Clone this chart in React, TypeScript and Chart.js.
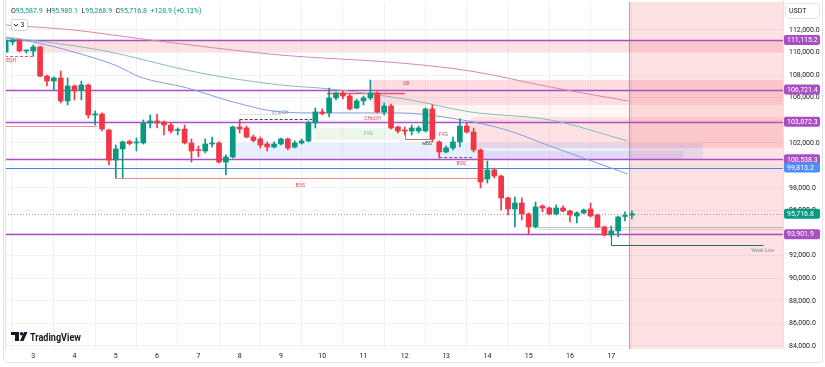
import React, { useEffect, useRef } from 'react';
import { Chart, registerables } from 'chart.js';
Chart.register(...registerables);

const GREEN = '#089981';
const RED = '#f23645';
const PURPLE = '#a94fc4';
const BLUE = '#4f8ff7';

// time axis: 4h candles, day labels every 6 candles, first candle index
const dayLabels = ['3', '4', '5', '6', '7', '8', '9', '10', '11', '12', '13', '14', '15', '16', '17'];
const candlesPerDay = 6;
const firstCandle = -4;
const xMin = -4.1;
const xMax = 108.96;

const priceTicks = [84000, 86000, 88000, 90000, 92000, 94000, 96000, 98000, 100000, 102000, 104000, 106000, 108000, 110000, 112000];
const yMin = 83734;
const yMax = 114481;

// OHLC, from candle index -4 to 87
const opens = [110050, 110940, 111110, 110140, 110140, 110490, 107920, 107480, 107750, 105710, 107040, 106680, 107130, 104470, 104560, 103140, 100480, 101460, 102120, 101990, 101990, 103760, 103940, 103850, 103580, 103100, 103230, 101990, 101410, 101280, 101900, 101990, 100300, 100750, 103410, 103320, 102520, 102340, 101900, 101630, 101900, 102340, 101630, 101990, 102170, 103760, 104740, 104650, 105980, 106420, 106150, 105090, 105710, 105980, 106420, 104740, 105270, 103410, 103140, 103050, 103050, 103050, 105000, 102080, 101190, 101550, 102080, 103490, 102960, 101370, 98800, 99600, 99060, 97120, 96140, 96670, 95700, 94550, 96410, 96230, 95700, 96230, 95960, 95520, 95790, 96140, 95610, 94550, 93840, 94190, 95480, 95587.9];
const highs = [111200, 111200, 111160, 110230, 110670, 110580, 108010, 107840, 108370, 107750, 107130, 107480, 107210, 104820, 104650, 103230, 101810, 102170, 102250, 102430, 104030, 104470, 104560, 103940, 103760, 103320, 103580, 102340, 101720, 102340, 102520, 102080, 100930, 103490, 104030, 103490, 102700, 102520, 102080, 102080, 102430, 102430, 102170, 102340, 103940, 105090, 105000, 106860, 106510, 106600, 106330, 105890, 106150, 107570, 106510, 105530, 105440, 103490, 103410, 103580, 103490, 105090, 105360, 102170, 101720, 102520, 104120, 103760, 103320, 101460, 100390, 99770, 99150, 97200, 97200, 97120, 95790, 96760, 96500, 96320, 96500, 96410, 96050, 95880, 96140, 96670, 95700, 94630, 94630, 95520, 95880, 95980.1];
const lows = [109960, 110670, 110050, 109960, 109700, 107840, 107040, 106680, 105530, 105360, 105800, 105800, 104200, 103580, 103050, 100040, 98890, 98890, 101810, 101280, 101900, 103320, 103320, 102700, 102870, 102700, 101900, 100300, 100750, 101100, 101630, 100220, 99150, 100660, 102870, 102430, 102080, 101550, 101280, 101550, 101810, 101370, 101550, 101900, 102080, 103320, 104470, 104290, 105800, 105890, 104910, 105000, 105360, 105800, 104650, 104470, 103230, 102870, 102700, 102700, 102870, 102960, 102080, 100660, 101100, 101370, 101630, 102870, 101190, 98000, 98440, 98890, 96050, 95610, 94550, 95170, 93930, 94460, 95880, 95610, 95610, 95880, 94990, 94900, 95700, 95430, 94460, 93750, 93660, 93660, 95080, 95268.9];
const closes = [111025, 111115, 110140, 110180, 110490, 107920, 107480, 107750, 105710, 107040, 106600, 107130, 104470, 104560, 103230, 100480, 101460, 102080, 101940, 102080, 103760, 103940, 103760, 103580, 103050, 103180, 101990, 101280, 101320, 101900, 101990, 100300, 100750, 103410, 103230, 102520, 102210, 101810, 101630, 101900, 102340, 101550, 101990, 102170, 103760, 104740, 104600, 105980, 106420, 106150, 105000, 105710, 105980, 106420, 104740, 105270, 103320, 103050, 103050, 103320, 103320, 105000, 102340, 101190, 101550, 102080, 103490, 102960, 101370, 98530, 99600, 99060, 97120, 96140, 96670, 95700, 94550, 96320, 96230, 95700, 96230, 95960, 95610, 95790, 96050, 95520, 94550, 93840, 94190, 95430, 95570, 95716.8];

// moving averages (anchor candle index, value)
const maSlowIdx = [-4, 5.8, 15.9, 35.9, 53.3, 63.5, 75.1, 86.4];
const maSlow = [112440, 112000, 111200, 109780, 109080, 108370, 106950, 105710];
const maMidIdx = [-4, 9.7, 24.3, 35.9, 43.2, 54.8, 63.5, 75.1, 86.4];
const maMid = [111380, 110230, 108190, 107130, 106770, 105800, 104740, 104030, 102170];
const maFastIdx = [-4, 0, 6.4, 12.2, 15.5, 22.4, 29.1, 35.9, 41.7, 53.3, 60.6, 68.3, 75.1, 86.4];
const maFast = [111290, 110940, 109960, 108810, 107840, 106860, 105620, 104740, 104650, 104650, 104200, 103230, 101720, 99240];

// horizontal price levels
const purpleLevels = [111115.2, 106721.4, 103872.3, 100538.3, 93901.9];
const blueLevels = [99813.2];

// zones: [fromIndex, toIndex, upperPrice, lowerPrice]
const zoneTopSupply = [0, 110, 111115.2, 110050];
const zoneOB = [49.2, 110, 107570, 105355];
const zoneOBLower = [49.2, 110, 105355, 104290];
const zoneSupply2 = [63.5, 110, 104290, 101545];
const zoneFVG = [40.7, 53.8, 103320, 102250];
const zoneDemand = [28.9, 97.3, 101990, 100538.3];
const zoneImbalance = [65, 94.4, 101280, 100538.3];
const futureFrom = 86.6;

// segments: [fromIndex, toIndex, price]
const segEqh = [-4.1, 0.3, 109670];
const segSweep = [-4.1, 9.3, 103490];
const segBos = [12, 66, 98890];
const segChoch = [30, 40.5, 104120];
const segChochTop = [30, 36, 104560];
const segObTop = [42.7, 54, 106420];
const segBos2 = [59, 64, 100750];
const segRangeA = [73.4, 110, 94550];
const segRangeB = [73.4, 110, 94370];
const pathStep = [[54, 103140], [54, 102340], [57.7, 102340]];
const pathWeakLow = [[84, 93901.9], [84, 92950], [106, 92950]];

// small chart tags
const tagText = ['EQH', 'BOS', 'CHoCH', 'CHoCH', 'OB', 'FVG', 'FVG', 'wBS', 'BOS', 'Weak Low'];
const tagIdx = [-3.2, 38.8, 35.9, 49.3, 54.2, 48.7, 59.6, 57.2, 62.2, 106];
const tagPrice = [109250, 98180, 104646, 104115, 107250, 102800, 102700, 101900, 100130, 92420];
const tagKind = ['red', 'red', 'grey', 'red', 'red', 'green', 'red', 'dark', 'red', 'grey'];

const fmt = (v: number) => v.toLocaleString('en-US', { minimumFractionDigits: 1, maximumFractionDigits: 1 });

const annotations = {
  id: 'tvAnnotations',
  beforeDatasetsDraw(chart: any) {
    const { ctx, chartArea: a, scales } = chart;
    const xs = scales.x, ys = scales.y;
    const X = (v: number) => xs.getPixelForValue(v);
    const Y = (v: number) => ys.getPixelForValue(v);
    ctx.save();
    ctx.beginPath();
    ctx.rect(a.left, a.top, a.right - a.left, a.bottom - a.top);
    ctx.clip();
    const zone = (z: number[], fill: string) => {
      const x1 = X(z[0]), x2 = X(z[1]), y1 = Y(z[2]), y2 = Y(z[3]);
      ctx.fillStyle = fill;
      ctx.fillRect(x1, y1, x2 - x1, y2 - y1);
    };
    // future area
    ctx.fillStyle = 'rgba(242,54,69,0.15)';
    ctx.fillRect(X(futureFrom), a.top, a.right - X(futureFrom), a.bottom - a.top);
    zone(zoneTopSupply, 'rgba(242,54,69,0.15)');
    zone(zoneOB, 'rgba(242,54,69,0.17)');
    zone(zoneOBLower, 'rgba(242,54,69,0.05)');
    zone(zoneSupply2, 'rgba(242,54,69,0.15)');
    zone(zoneFVG, 'rgba(76,175,80,0.10)');
    zone(zoneDemand, 'rgba(41,98,255,0.10)');
    zone(zoneImbalance, 'rgba(156,39,176,0.10)');
    ctx.strokeStyle = 'rgba(242,54,69,0.55)';
    ctx.lineWidth = 1;
    ctx.beginPath();
    ctx.moveTo(Math.round(X(futureFrom)) + 0.5, a.top);
    ctx.lineTo(Math.round(X(futureFrom)) + 0.5, a.bottom);
    ctx.stroke();

    const seg = (s: number[], color: string, w: number, dash: number[]) => {
      ctx.strokeStyle = color;
      ctx.lineWidth = w;
      ctx.setLineDash(dash);
      const y = Math.round(Y(s[2])) + 0.5;
      ctx.beginPath();
      ctx.moveTo(X(s[0]), y);
      ctx.lineTo(X(s[1]), y);
      ctx.stroke();
      ctx.setLineDash([]);
    };
    const path = (p: number[][], color: string, w: number) => {
      ctx.strokeStyle = color;
      ctx.lineWidth = w;
      ctx.beginPath();
      p.forEach((q, i) => {
        const px = Math.round(X(q[0])) + 0.5, py = Math.round(Y(q[1])) + 0.5;
        if (i === 0) ctx.moveTo(px, py); else ctx.lineTo(px, py);
      });
      ctx.stroke();
    };
    // levels
    purpleLevels.forEach((p) => seg([xMin, xMax + 1, p], PURPLE, 1.5, []));
    blueLevels.forEach((p) => seg([xMin, xMax + 1, p], '#4a86d8', 1, []));
    seg(segEqh, 'rgba(242,54,69,0.8)', 1, [3, 2]);
    seg(segSweep, 'rgba(242,54,69,0.55)', 1, []);
    seg(segBos, 'rgba(242,54,69,0.6)', 1, []);
    seg(segChoch, '#444', 1, [3, 2]);
    seg(segChochTop, 'rgba(120,123,134,0.6)', 1, [1, 2]);
    seg(segObTop, 'rgba(242,54,69,0.85)', 1.5, []);
    seg(segBos2, '#666', 1, [3, 2]);
    seg(segRangeA, 'rgba(120,123,134,0.45)', 1, []);
    seg(segRangeB, 'rgba(120,123,134,0.3)', 1, []);
    path(pathStep, 'rgba(178,80,60,0.8)', 1);
    path(pathWeakLow, '#2e6b5e', 1);

    ctx.font = '5px Roboto';
    ctx.textAlign = 'center';
    ctx.textBaseline = 'middle';
    const kindColor: Record<string, string> = { red: '#e0434f', grey: '#8a8d96', green: '#6fbf73', dark: '#444' };
    tagText.forEach((t, i) => {
      ctx.fillStyle = kindColor[tagKind[i]];
      ctx.fillText(t, X(tagIdx[i]), Y(tagPrice[i]));
    });
    ctx.restore();
  },
  afterDatasetsDraw(chart: any) {
    const { ctx, chartArea: a, scales } = chart;
    const y = Math.round(scales.y.getPixelForValue(closes[closes.length - 1])) + 0.5;
    ctx.save();
    ctx.strokeStyle = 'rgba(120,123,134,0.7)';
    ctx.setLineDash([1, 2]);
    ctx.lineWidth = 1;
    ctx.beginPath();
    ctx.moveTo(a.left, y);
    ctx.lineTo(a.right, y);
    ctx.stroke();
    ctx.restore();
  },
  afterDraw(chart: any) {
    const { ctx, chartArea: a, scales } = chart;
    const ys = scales.y;
    ctx.save();
    // separators and card frame
    ctx.strokeStyle = '#e0e3eb';
    ctx.lineWidth = 1;
    ctx.beginPath();
    ctx.moveTo(Math.round(a.right) + 0.5, 0);
    ctx.lineTo(Math.round(a.right) + 0.5, a.bottom);
    ctx.moveTo(a.left + 0.5, 0);
    ctx.lineTo(a.left + 0.5, a.bottom);
    ctx.stroke();
    ctx.beginPath();
    ctx.moveTo(3.5, -2);
    ctx.lineTo(3.5, 358);
    ctx.quadraticCurveTo(3.5, 362.5, 8, 362.5);
    ctx.lineTo(818, 362.5);
    ctx.quadraticCurveTo(822.5, 362.5, 822.5, 358);
    ctx.lineTo(822.5, -2);
    ctx.stroke();

    // price labels
    const label = (p: number, bg: string) => {
      const py = ys.getPixelForValue(p);
      ctx.fillStyle = bg;
      ctx.beginPath();
      ctx.roundRect(784, py - 5, 36, 10, 2);
      ctx.fill();
      ctx.fillStyle = '#ffffff';
      ctx.font = '7px Roboto';
      ctx.textAlign = 'left';
      ctx.textBaseline = 'middle';
      ctx.fillText(fmt(p), 787, py + 0.5);
    };
    purpleLevels.forEach((p) => label(p, PURPLE));
    blueLevels.forEach((p) => label(p, BLUE));
    label(closes[closes.length - 1], GREEN);

    // USDT
    ctx.fillStyle = '#ffffff';
    ctx.strokeStyle = '#e0e3eb';
    ctx.beginPath();
    ctx.roundRect(785.5, 3.5, 34, 15, 3);
    ctx.fill();
    ctx.stroke();
    ctx.fillStyle = '#131722';
    ctx.font = '7px Roboto';
    ctx.textAlign = 'left';
    ctx.textBaseline = 'middle';
    ctx.fillText('USDT', 789, 11);

    // OHLC header
    const n = closes.length - 1;
    const chg = closes[n] - opens[n];
    const parts: [string, string][] = [
      ['O', fmt(opens[n])], ['H', fmt(highs[n])], ['L', fmt(lows[n])], ['C', fmt(closes[n])],
      ['', (chg >= 0 ? '+' : '') + fmt(chg) + ' (' + (chg >= 0 ? '+' : '') + ((chg / opens[n]) * 100).toFixed(2) + '%)'],
    ];
    ctx.font = '7px Roboto';
    let hx = 11;
    parts.forEach(([k, v]) => {
      if (k) {
        ctx.fillStyle = '#131722';
        ctx.fillText(k, hx, 11.5);
        hx += ctx.measureText(k).width;
      }
      ctx.fillStyle = GREEN;
      ctx.fillText(v, hx, 11.5);
      hx += ctx.measureText(v).width + 3.5;
    });

    // collapse button
    ctx.fillStyle = '#ffffff';
    ctx.strokeStyle = '#d1d4dc';
    ctx.beginPath();
    ctx.roundRect(11.5, 19.5, 16, 11, 2);
    ctx.fill();
    ctx.stroke();
    ctx.strokeStyle = '#131722';
    ctx.beginPath();
    ctx.moveTo(14, 24);
    ctx.lineTo(16, 26);
    ctx.lineTo(18, 24);
    ctx.stroke();
    ctx.fillStyle = '#131722';
    ctx.fillText('3', 20.5, 25.5);

    // TradingView logo
    ctx.fillStyle = '#131722';
    ctx.fillRect(11, 332, 8, 3);
    ctx.fillRect(15, 332, 4, 9);
    ctx.beginPath();
    ctx.arc(21.5, 333.7, 1.7, 0, Math.PI * 2);
    ctx.fill();
    ctx.beginPath();
    ctx.moveTo(24, 332);
    ctx.lineTo(27.5, 332);
    ctx.lineTo(23.5, 341);
    ctx.lineTo(20, 341);
    ctx.closePath();
    ctx.fill();
    ctx.font = 'bold 10px Roboto';
    ctx.textBaseline = 'alphabetic';
    ctx.fillText('TradingView', 30, 341, 51);
    ctx.restore();
  },
};

export default function App() {
  const ref = useRef<HTMLCanvasElement>(null);
  useEffect(() => {
    document.body.style.margin = '0';
    const xs = opens.map((_, k) => firstCandle + k);
    const colors = xs.map((_, k) => (closes[k] >= opens[k] ? GREEN : RED));
    const wickData = xs.map((x, k) => ({ x, y: [lows[k], highs[k]] }));
    const bodyData = xs.map((x, k) => ({ x, y: [opens[k], closes[k]] }));
    const line = (idx: number[], vals: number[], color: string, order: number) => ({
      type: 'line' as const,
      data: idx.map((x, k) => ({ x, y: vals[k] })),
      borderColor: color,
      borderWidth: 1,
      pointRadius: 0,
      cubicInterpolationMode: 'monotone' as const,
      order,
    });
    Chart.defaults.font.family = 'Roboto, sans-serif';
    const chart = new Chart(ref.current as HTMLCanvasElement, {
      type: 'bar',
      data: {
        datasets: [
          line(maSlowIdx, maSlow, '#d687b0', 5),
          line(maMidIdx, maMid, '#86bdb3', 4),
          line(maFastIdx, maFast, '#7f9ee0', 3),
          { type: 'bar', data: wickData as any, backgroundColor: colors, barThickness: 1, grouped: false, order: 2 } as any,
          { type: 'bar', data: bodyData as any, backgroundColor: colors, barThickness: 5, grouped: false, minBarLength: 1, order: 1 } as any,
        ],
      },
      options: {
        animation: false,
        responsive: false,
        devicePixelRatio: 1,
        layout: { padding: { left: 5, right: 3, top: 2, bottom: 5 } },
        plugins: { legend: { display: false }, tooltip: { enabled: false } },
        scales: {
          x: {
            type: 'linear',
            min: xMin,
            max: xMax,
            offset: false,
            afterBuildTicks: (s: any) => { s.ticks = dayLabels.map((_, d) => ({ value: d * candlesPerDay })); },
            afterFit: (s: any) => { s.height = 13; s.paddingLeft = 0; s.paddingRight = 0; },
            ticks: {
              autoSkip: false,
              maxRotation: 0,
              padding: 3,
              color: '#131722',
              font: { size: 7 },
              callback: (v: any) => dayLabels[Math.round(Number(v) / candlesPerDay)] ?? '',
            },
            grid: { color: '#f0f1f4', drawTicks: false },
            border: { display: false },
          },
          y: {
            type: 'linear',
            position: 'right',
            min: yMin,
            max: yMax,
            afterBuildTicks: (s: any) => { s.ticks = priceTicks.map((v) => ({ value: v })); },
            afterFit: (s: any) => { s.width = 39; s.paddingTop = 0; s.paddingBottom = 0; },
            ticks: {
              padding: 6,
              color: '#131722',
              font: { size: 7 },
              callback: (v: any) => fmt(Number(v)),
            },
            grid: { color: '#f0f1f4', drawTicks: false },
            border: { display: false },
          },
        },
      } as any,
      plugins: [annotations],
    });
    return () => chart.destroy();
  }, []);
  return (
    <div style={{ position: 'fixed', left: 0, top: 0, width: 825, height: 367, background: '#ffffff' }}>
      <canvas ref={ref} width={825} height={367} style={{ display: 'block', width: 825, height: 367 }} />
    </div>
  );
}
